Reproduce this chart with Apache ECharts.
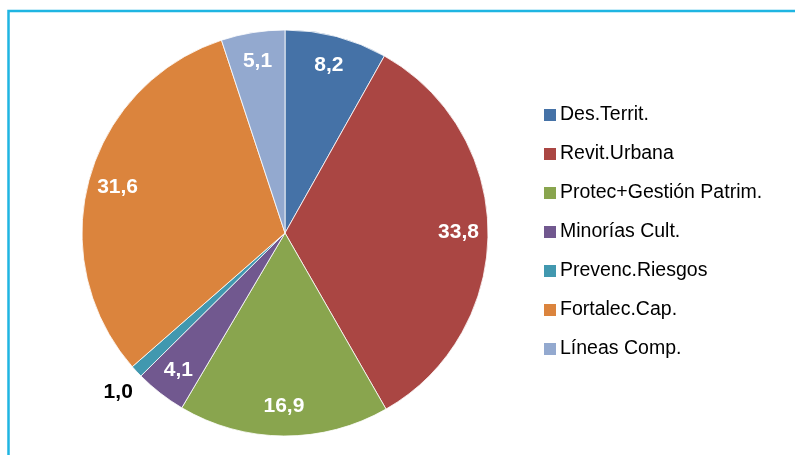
<!DOCTYPE html>
<html>
<head>
<meta charset="utf-8">
<script src="https://cdn.jsdelivr.net/npm/echarts@6/dist/echarts.min.js"></script>
<style>
  html, body { margin: 0; padding: 0; background: #fff; }
  #chart { width: 795px; height: 455px; }
</style>
</head>
<body>
<div id="chart"></div>
<script>
var categories = ["Des.Territ.", "Revit.Urbana", "Protec+Gestión Patrim.", "Minorías Cult.", "Prevenc.Riesgos", "Fortalec.Cap.", "Líneas Comp."];
var values = [8.2, 33.8, 16.9, 4.1, 1.0, 31.6, 5.1];
var colors = ["#4572a7", "#aa4643", "#89a54e", "#71588f", "#4198af", "#db843d", "#93a9cf"];

var font = "'Liberation Sans Narrow', 'Arial Narrow', 'Liberation Sans', sans-serif";
var center = [285, 233];
var R = 203;

function fmt(v) {
  return v.toFixed(1).replace(".", ",");
}

var chart = echarts.init(document.getElementById("chart"));

// main pie: slices + the one outside label (the thin teal slice)
var mainData = categories.map(function (name, i) {
  var item = { name: name, value: values[i], itemStyle: { color: colors[i] } };
  if (i === 4) {
    item.label = {
      show: true,
      position: "outside",
      color: "#000",
      fontFamily: font,
      fontWeight: "bold",
      fontSize: 21,
      formatter: function (p) { return fmt(p.value); }
    };
    item.labelLine = { show: false, length: 16, length2: 0 };
  }
  return item;
});

// transparent pie, only used to put the white labels at ~0.84 of the radius
var labelData = categories.map(function (name, i) {
  return {
    name: name,
    value: values[i],
    label: { show: i !== 4 }
  };
});

chart.setOption({
  animation: false,
  backgroundColor: "#fff",
  graphic: [
    {
      type: "rect",
      shape: { x: 8.5, y: 11, width: 820, height: 480 },
      style: { fill: null, stroke: "#1fb5e2", lineWidth: 2.5 },
      silent: true
    }
  ],
  legend: {
    orient: "vertical",
    left: 537,
    top: 100,
    itemWidth: 14,
    itemHeight: 14,
    itemGap: 19,
    icon: "rect",
    data: categories,
    textStyle: { color: "#000", fontFamily: font, fontSize: 19.5, lineHeight: 20, padding: [0, 0, 0, -2] }
  },
  series: [
    {
      type: "pie",
      center: center,
      radius: [0, R],
      startAngle: 90,
      clockwise: true,
      silent: true,
      itemStyle: { borderColor: "#fff", borderWidth: 0.8 },
      label: { show: false },
      labelLayout: function (p) {
        // nudge the "1,0" label toward where it sits in the original
        return p.dataIndex === 4 ? { dx: 13, dy: 10 } : {};
      },
      data: mainData
    },
    {
      type: "pie",
      center: center,
      radius: [0, R * 1.68],
      startAngle: 90,
      clockwise: true,
      silent: true,
      itemStyle: { color: "rgba(0,0,0,0)" },
      label: {
        show: true,
        position: "inside",
        color: "#fff",
        fontFamily: font,
        fontWeight: "bold",
        fontSize: 21,
        formatter: function (p) { return fmt(p.value); }
      },
      labelLine: { show: false },
      data: labelData
    }
  ]
});
</script>
</body>
</html>
